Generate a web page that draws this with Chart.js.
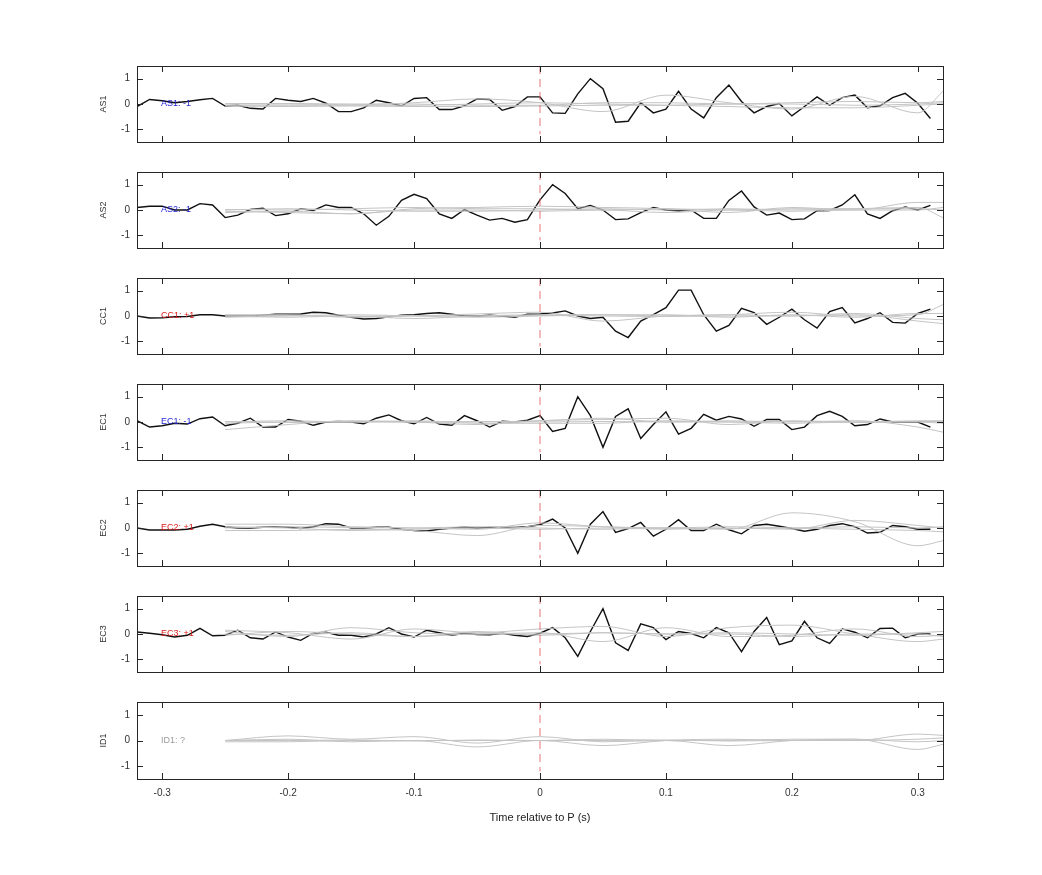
<!DOCTYPE html>
<html>
<head>
<meta charset="utf-8">
<script src="https://cdn.jsdelivr.net/npm/chart.js@4"></script>
<style>
body{margin:0;background:#fff;width:1042px;height:875px;position:relative;overflow:hidden;font-family:"Liberation Sans",Arial,sans-serif}
.panel{position:absolute;left:0;width:1042px}
</style>
</head>
<body>
<div id="wrap"></div>
<script>
const stations = ['AS1','AS2','CC1','EC1','EC2','EC3','ID1'];
const polarity = ['-1','-1','+1','-1','+1','+1','?'];
const xTicks = [-0.3,-0.2,-0.1,0,0.1,0.2,0.3];
const yTicks = [-1,0,1];

const tBlack = [-0.32,-0.31,-0.30,-0.29,-0.28,-0.27,-0.26,-0.25,-0.24,-0.23,-0.22,-0.21,-0.20,-0.19,-0.18,-0.17,
  -0.16,-0.15,-0.14,-0.13,-0.12,-0.11,-0.10,-0.09,-0.08,-0.07,-0.06,-0.05,-0.04,-0.03,-0.02,-0.01,0,
  0.01,0.02,0.03,0.04,0.05,0.06,0.07,0.08,0.09,0.10,0.11,0.12,0.13,0.14,0.15,0.16,0.17,0.18,0.19,0.20,
  0.21,0.22,0.23,0.24,0.25,0.26,0.27,0.28,0.29,0.30,0.31];

const blackAS1 = [-0.1,0.18,0.13,0.05,0.1,0.17,0.22,-0.08,-0.05,-0.17,-0.2,0.22,0.15,0.1,0.22,0.03,
  -0.3,-0.3,-0.15,0.15,0.05,-0.08,0.22,0.25,-0.22,-0.22,-0.07,0.2,0.18,-0.25,-0.1,0.28,0.28,
  -0.35,-0.37,0.4,1.0,0.6,-0.72,-0.68,0.05,-0.35,-0.2,0.5,-0.2,-0.55,0.25,0.75,0.1,-0.35,-0.1,0.02,-0.47,
  -0.1,0.28,-0.05,0.25,0.35,-0.15,-0.07,0.25,0.42,0.03,-0.57];
const blackAS2 = [0.1,0.15,0.15,0.0,0.0,0.25,0.2,-0.3,-0.2,0.02,0.07,-0.22,-0.15,0.05,-0.02,0.2,
  0.1,0.1,-0.15,-0.6,-0.25,0.38,0.62,0.45,-0.15,-0.33,0.02,-0.2,-0.4,-0.33,-0.48,-0.38,0.4,
  1.0,0.65,0.05,0.18,0.0,-0.38,-0.35,-0.1,0.1,0.0,-0.03,0.0,-0.33,-0.33,0.38,0.75,0.12,-0.2,-0.12,-0.38,
  -0.35,-0.03,-0.02,0.2,0.6,-0.15,-0.33,-0.03,0.12,0.0,0.18];
const blackCC1 = [0.0,-0.08,-0.07,-0.03,-0.02,0.05,0.05,0.0,0.0,0.0,0.03,0.07,0.07,0.08,0.15,0.13,
  0.03,-0.05,-0.12,-0.1,-0.03,0.03,0.05,0.1,0.13,0.07,0.0,0.0,0.03,0.0,-0.05,0.07,0.08,
  0.12,0.2,0.0,-0.1,-0.05,-0.6,-0.85,-0.2,0.05,0.33,1.02,1.02,0.05,-0.6,-0.37,0.3,0.13,-0.33,-0.05,0.27,
  -0.15,-0.48,0.17,0.33,-0.27,-0.1,0.13,-0.25,-0.28,0.1,0.27];
const blackEC1 = [0.05,-0.2,-0.15,-0.05,-0.08,0.13,0.2,-0.15,-0.05,0.15,-0.2,-0.2,0.1,0.03,-0.13,0.0,
  0.02,0.0,-0.07,0.15,0.28,0.05,-0.07,0.18,-0.08,-0.13,0.25,0.05,-0.2,0.03,0.0,0.07,0.25,
  -0.37,-0.25,1.0,0.25,-1.0,0.22,0.52,-0.65,-0.1,0.4,-0.48,-0.25,0.3,0.07,0.22,0.12,-0.17,0.1,0.1,-0.3,
  -0.2,0.25,0.42,0.22,-0.15,-0.1,0.12,0.0,0.0,0.0,-0.2];
const blackEC2 = [0.0,-0.08,-0.08,-0.08,-0.05,0.07,0.15,0.05,0.0,0.0,0.03,0.05,0.03,-0.02,0.05,0.17,
  0.15,0.0,0.0,0.03,0.03,-0.05,-0.1,-0.12,-0.05,0.0,0.03,0.0,0.02,0.02,0.02,0.05,0.13,
  0.35,0.0,-1.0,0.15,0.65,-0.17,-0.02,0.22,-0.32,-0.05,0.33,-0.1,-0.1,0.15,-0.07,-0.23,0.1,0.15,0.07,-0.02,
  -0.13,-0.05,0.1,0.17,0.05,-0.2,-0.17,0.1,0.05,-0.05,-0.05];
const blackEC3 = [0.08,0.03,-0.03,-0.12,-0.05,0.22,-0.07,-0.05,0.15,-0.15,-0.2,0.08,-0.12,-0.25,0.03,0.07,
  -0.05,-0.05,-0.12,0.0,0.25,0.0,-0.12,0.15,0.05,-0.05,0.03,-0.02,-0.03,0.03,-0.05,-0.1,0.03,
  0.25,-0.15,-0.88,0.1,1.0,-0.35,-0.65,0.4,0.25,-0.22,0.1,0.02,-0.15,0.25,0.05,-0.7,0.1,0.65,-0.42,-0.27,
  0.5,-0.15,-0.37,0.2,0.07,-0.15,0.22,0.23,-0.15,0.0,0.0];
const blackSeries = [blackAS1,blackAS2,blackCC1,blackEC1,blackEC2,blackEC3,null];

// smooth grey traces, sampled coarsely
const tGrey = [-0.25,-0.2,-0.15,-0.1,-0.05,0,0.05,0.1,0.15,0.2,0.25,0.3,0.32];
const greyAS1 = [
  [0,0,-0.03,0.05,0.2,0.05,-0.3,0.35,0.05,-0.2,0.3,-0.35,0.5],
  [-0.05,-0.05,-0.05,-0.05,0,0.05,0,-0.05,-0.1,-0.15,-0.15,-0.05,0],
  [0.02,0.02,0,0,-0.05,-0.05,0.05,0.05,0,0.05,0.1,0.05,0.1],
  [-0.08,-0.1,-0.08,-0.1,-0.1,-0.08,-0.05,-0.05,0,0,-0.05,0,0.05]];
const greyAS2 = [
  [-0.1,-0.05,-0.15,0.05,0.1,0.15,0.1,0.05,-0.1,0.1,0,0.3,0.3],
  [0,0.05,0,-0.05,-0.05,0,0.05,0,0.05,0,0.05,0.1,-0.3],
  [-0.05,-0.1,-0.15,0,0,-0.05,0,-0.1,0,-0.05,0,0,0.1],
  [0.02,0,0.05,0.1,0.05,0.05,0,0.05,0,0.05,0.05,0.05,0]];
const greyCC1 = [
  [0.05,0.05,-0.05,0,0.08,0.15,-0.2,0,0.05,0.15,0,0.05,0.45],
  [0,-0.05,0,-0.1,0,0.05,0.05,0,0.05,0,0.1,-0.1,-0.15],
  [-0.05,0,0.05,0,-0.05,0,0.05,0.05,-0.05,0.05,-0.05,0.1,0.1],
  [0,0.02,-0.02,0.02,0,0.02,0,-0.02,0,0,0.05,-0.2,-0.3]];
const greyEC1 = [
  [-0.3,-0.1,0.05,0,-0.1,0.05,0.1,0.15,-0.1,0.05,0,0.05,0.05],
  [-0.05,0,0,0,0,0.05,0.15,0,0.05,0,0.05,-0.2,-0.4],
  [0,0.05,0,0.05,-0.05,-0.05,-0.05,0.05,0,-0.05,0,0,-0.05],
  [0.02,-0.02,0.02,0,0.02,0,0.02,0,0,0.02,-0.02,0.02,0.02]];
const greyEC2 = [
  [0.15,0.15,0.05,0,-0.05,0.2,0.05,0,-0.05,0.6,0.25,-0.7,-0.5],
  [-0.1,-0.1,-0.05,-0.1,-0.3,0.1,0.05,-0.05,0,-0.05,0.3,0.1,0],
  [0.05,0,-0.1,-0.05,0,-0.05,0,0,0.05,0,-0.05,-0.1,-0.15],
  [0,0.05,0.02,0,0.05,0,-0.05,0,-0.02,0,0.05,0,0.05]];
const greyEC3 = [
  [0.15,0.05,-0.2,0.2,0.05,0.2,0.3,-0.1,0.25,0.35,0,-0.3,-0.2],
  [0.1,-0.1,0.25,0.05,0,0.05,-0.3,0.25,-0.1,-0.05,0.2,-0.1,-0.05],
  [-0.05,0.1,0,-0.1,0.1,-0.05,0.05,0,0.05,0,-0.05,0.05,0.1],
  [0,-0.05,0.05,-0.1,0,0,0.05,0,0,-0.1,0,0,-0.1]];
const greyID1 = [
  [0,0.18,0.05,0.15,-0.1,0.15,-0.05,0,-0.2,0,0.05,-0.35,-0.15],
  [0,0.05,-0.05,0,-0.25,0,-0.2,0,0.05,0,0,0.25,0.2],
  [-0.05,-0.05,0,0,0,0,0.05,0,0,0.05,0.05,-0.05,0],
  [0,0,0.02,-0.02,0.02,0,0,0.02,-0.02,0,0,0.05,0.1]];
const greySeries = [greyAS1,greyAS2,greyCC1,greyEC1,greyEC2,greyEC3,greyID1];

const labelColors = {'-1':'#1f1fd0','+1':'#d82020','?':'#9a9a9a'};
const FONT = '"Liberation Sans", Arial, sans-serif';

const framePlugin = {
  id:'frame',
  afterDatasetsDraw(chart, args, opts){
    const {ctx, chartArea:a, scales:{x,y}} = chart;
    ctx.save();
    // dashed P marker
    ctx.strokeStyle = 'rgba(225,95,95,0.85)';
    ctx.lineWidth = 1;
    ctx.setLineDash([8,5]);
    ctx.beginPath();
    ctx.moveTo(x.getPixelForValue(0), y.getPixelForValue(1.5));
    ctx.lineTo(x.getPixelForValue(0), y.getPixelForValue(-1.2));
    ctx.stroke();
    ctx.setLineDash([]);
    // label
    ctx.fillStyle = labelColors[opts.pol];
    ctx.font = '9px '+FONT;
    ctx.textBaseline = 'middle';
    ctx.fillText(opts.name+': '+opts.pol, x.getPixelForValue(-0.301), y.getPixelForValue(0));
    // frame and inward ticks
    ctx.strokeStyle = '#262626';
    ctx.lineWidth = 1;
    ctx.strokeRect(a.left+0.5, a.top+0.5, a.right-a.left, a.bottom-a.top);
    ctx.beginPath();
    xTicks.forEach(v=>{
      const px = Math.round(x.getPixelForValue(v))+0.5;
      ctx.moveTo(px,a.top); ctx.lineTo(px,a.top+6);
      ctx.moveTo(px,a.bottom); ctx.lineTo(px,a.bottom-6);
    });
    yTicks.forEach(v=>{
      const py = Math.round(y.getPixelForValue(v))+0.5;
      ctx.moveTo(a.left,py); ctx.lineTo(a.left+6,py);
      ctx.moveTo(a.right,py); ctx.lineTo(a.right-6,py);
    });
    ctx.stroke();
    // station name on the left
    ctx.fillStyle = '#333';
    ctx.font = '9px '+FONT;
    ctx.textAlign = 'center';
    ctx.translate(104, y.getPixelForValue(0));
    ctx.rotate(-Math.PI/2);
    ctx.fillText(opts.name, 0, 0);
    ctx.restore();
  }
};

const wrap = document.getElementById('wrap');
stations.forEach((name, i)=>{
  const last = i===stations.length-1;
  const top = 66 + 106*i;
  const div = document.createElement('div');
  div.className = 'panel';
  div.style.top = (top-13)+'px';
  div.style.height = (last ? 13+77+50 : 13+76+13)+'px';
  const cv = document.createElement('canvas');
  div.appendChild(cv);
  wrap.appendChild(div);

  const datasets = greySeries[i].map(g=>({
    data: tGrey.map((t,k)=>({x:t,y:g[k]})),
    borderColor:'#c4c4c4', borderWidth:1, pointRadius:0, tension:0.4, cubicInterpolationMode:'monotone'
  }));
  if(blackSeries[i]){
    datasets.push({
      data: tBlack.map((t,k)=>({x:t,y:blackSeries[i][k]})),
      borderColor:'#111', borderWidth:1.4, pointRadius:0, tension:0
    });
  }

  new Chart(cv,{
    type:'line',
    data:{datasets},
    plugins:[framePlugin],
    options:{
      responsive:true, maintainAspectRatio:false, animation:false,
      layout:{padding:{top:0,bottom:0,right:1042-943,left:0}},
      plugins:{legend:{display:false},tooltip:{enabled:false},
        frame:{name, pol:polarity[i]}},
      scales:{
        x:{type:'linear',min:-0.32,max:0.32,display:last,
          afterBuildTicks:s=>{s.ticks = xTicks.map(v=>({value:v}));},
          afterFit:s=>{s.height = last ? 50 : 0;},
          grid:{display:false,drawTicks:false}, border:{display:false},
          ticks:{padding:8,color:'#333',font:{family:FONT,size:10},callback:v=>v===0?'0':String(v)},
          title:{display:true,text:'Time relative to P (s)',color:'#222',font:{family:FONT,size:11},padding:{top:10}}
        },
        y:{min:-1.5,max:1.5,
          afterBuildTicks:s=>{s.ticks = yTicks.map(v=>({value:v}));},
          afterFit:s=>{s.width=137;},
          grid:{display:false,drawTicks:false}, border:{display:false},
          ticks:{padding:7,color:'#333',font:{family:FONT,size:10}}
        }
      }
    }
  });
});
</script>
</body>
</html>
